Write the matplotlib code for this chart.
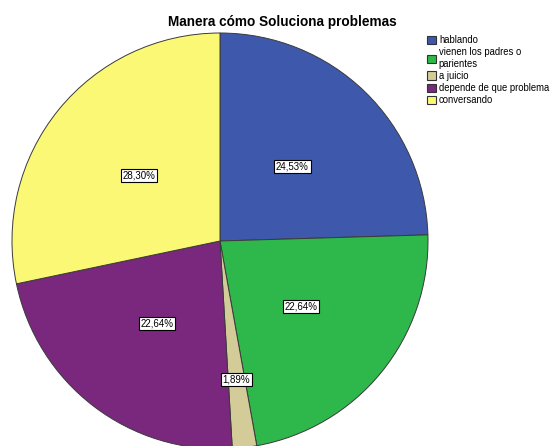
import matplotlib.pyplot as plt
import matplotlib.patches as mpatches
import numpy as np

# data
categories = ["hablando", "vienen los padres o\nparientes", "a juicio",
              "depende de que problema", "conversando"]
percents = [24.53, 22.64, 1.89, 22.64, 28.30]
labels = ["24,53%", "22,64%", "1,89%", "22,64%", "28,30%"]
colors = ["#3E58AC", "#2EB84B", "#D3CC99", "#7A287D", "#FBF876"]
label_dist = [0.5, 0.5, 0.67, 0.5, 0.5]

plt.rcParams['font.family'] = ['Liberation Sans', 'DejaVu Sans']

fig = plt.figure(figsize=(5.52, 4.46), dpi=100)
ax = fig.add_axes([0, 0, 1, 1])

wedges, _ = ax.pie(percents, colors=colors, startangle=90, counterclock=False,
                   center=(220, 205), radius=208, frame=True,
                   wedgeprops=dict(edgecolor='#3a3a3a', linewidth=0.7))
ax.set_xlim(0, 552)
ax.set_ylim(0, 446)
ax.axis('off')

for w, lab, d in zip(wedges, labels, label_dist):
    ang = np.deg2rad((w.theta1 + w.theta2) / 2)
    x = 220 + d * 208 * np.cos(ang)
    y = 205 + d * 208 * np.sin(ang)
    ax.text(x, y, lab, ha='center', va='center', fontsize=7,
            bbox=dict(facecolor='white', edgecolor='black', linewidth=0.8, pad=1.2))

ax.text(282, 424, "Manera cómo Soluciona problemas", ha='center', va='center',
        fontsize=9.8, fontweight='bold')

handles = [mpatches.Patch(facecolor=c, edgecolor='#333333', linewidth=0.8) for c in colors]
leg = fig.legend(handles, categories, loc='upper left', bbox_to_anchor=(427 / 552, 1 - 35 / 446),
                 frameon=False, fontsize=6.85, handlelength=0.95, handleheight=0.95,
                 handletextpad=0.3, labelspacing=0.22, borderpad=0, borderaxespad=0)

fig.savefig("out.png", dpi=100)
